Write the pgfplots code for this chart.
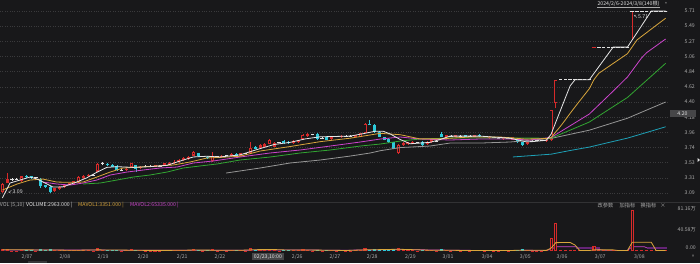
\documentclass[border=0pt]{standalone}
\usepackage{fontspec}
\setmainfont{Noto Sans CJK SC}
\newfontfamily\sym{DejaVu Sans}
\usepackage{pgfplots}
\pgfplotsset{compat=1.18}
\usepackage{pgfplotstable}
\definecolor{bgc}{RGB}{24,24,26}
\definecolor{gridc}{RGB}{58,58,60}
\definecolor{sepc}{RGB}{50,50,52}
\definecolor{cred}{RGB}{214,42,42}
\definecolor{ccyan}{RGB}{45,202,218}
\definecolor{dojic}{RGB}{225,225,225}
\definecolor{maA}{RGB}{230,230,230}
\definecolor{maB}{RGB}{217,166,60}
\definecolor{maC}{RGB}{204,68,204}
\definecolor{maD}{RGB}{50,165,50}
\definecolor{maE}{RGB}{150,150,150}
\definecolor{maF}{RGB}{30,160,182}
\definecolor{mvB}{RGB}{100,36,118}
\definecolor{tickc}{RGB}{170,170,170}
\definecolor{boxc}{RGB}{70,70,72}
\newcommand\lbl{\fontsize{5.2}{6}\selectfont}

\pgfplotsset{
 kbar/.style 2 args={draw=none, mark=none,
   /pgfplots/error bars/y dir=plus, /pgfplots/error bars/y explicit,
   /pgfplots/error bars/error mark=none,
   /pgfplots/error bars/error bar style={draw=#2, line width=#1}},
 kdash/.style={draw=none, mark=none,
   /pgfplots/error bars/x dir=both, /pgfplots/error bars/x fixed=0.37,
   /pgfplots/error bars/error mark=none,
   /pgfplots/error bars/error bar style={draw=#1, line width=0.9pt}},
}

% up candles: x, body bottom, body height, low, high-low, volume
\pgfplotstableread{
x lo h L r v
0 3.10 0.12 3.09 0.15 4
1 3.24 0.05 3.23 0.15 3
4 3.26 0.07 3.25 0.09 2
11 3.12 0.04 3.11 0.06 1.5
12 3.15 0.03 3.14 0.05 1.2
13 3.18 0.03 3.17 0.05 1.2
14 3.21 0.02 3.20 0.04 1.0
15 3.23 0.03 3.22 0.05 1.2
16 3.25 0.07 3.24 0.10 2.5
17 3.31 0.03 3.30 0.05 1.5
18 3.33 0.02 3.32 0.04 1.2
20 3.40 0.11 3.39 0.13 5
26 3.42 0.02 3.41 0.04 1.0
27 3.46 0.06 3.45 0.08 3
29 3.45 0.02 3.44 0.04 1.0
32 3.47 0.02 3.46 0.04 0.8
34 3.49 0.03 3.48 0.05 1.5
35 3.50 0.03 3.49 0.05 1.5
36 3.52 0.02 3.51 0.05 1.2
37 3.54 0.03 3.53 0.05 1.5
38 3.56 0.04 3.55 0.06 2
39 3.58 0.03 3.57 0.05 1.5
40 3.63 0.05 3.62 0.08 3
44 3.55 0.07 3.54 0.14 3
46 3.61 0.02 3.60 0.04 1.0
48 3.62 0.03 3.61 0.05 1.2
50 3.63 0.03 3.62 0.05 1.2
52 3.66 0.08 3.65 0.17 6
54 3.74 0.04 3.73 0.06 2
55 3.76 0.04 3.75 0.06 2
56 3.80 0.06 3.79 0.08 3
57 3.76 0.05 3.75 0.07 2
61 3.81 0.03 3.80 0.05 1.2
62 3.82 0.03 3.81 0.05 1.2
63 3.87 0.06 3.86 0.08 3
64 3.91 0.03 3.90 0.05 1.5
69 3.87 0.03 3.86 0.05 1.2
71 3.89 0.02 3.88 0.04 1.0
74 3.90 0.02 3.89 0.04 1.0
75 3.90 0.05 3.89 0.07 2
76 3.96 0.13 3.95 0.15 5
83 3.66 0.12 3.65 0.14 5
84 3.78 0.03 3.77 0.05 1.5
85 3.79 0.03 3.78 0.05 1.2
86 3.80 0.03 3.79 0.05 1.2
89 3.79 0.04 3.78 0.06 1.5
90 3.82 0.03 3.81 0.05 1.2
93 3.89 0.03 3.88 0.05 1.2
95 3.90 0.02 3.89 0.04 1.0
99 3.90 0.02 3.89 0.04 1.0
102 3.88 0.02 3.87 0.04 1.0
105 3.87 0.02 3.86 0.04 1.0
107 3.86 0.03 3.85 0.05 1.2
110 3.79 0.03 3.78 0.05 1.5
114 3.84 0.02 3.83 0.04 1.0
115 3.85 0.44 3.84 0.45 25
116 4.39 0.33 4.32 0.40 54
132 5.29 0 5.29 0.42 80
}\up

% down candles
\pgfplotstableread{
x lo h L r v
5 3.32 0.02 3.31 0.04 1.2
6 3.31 0.02 3.30 0.04 1.0
8 3.19 0.11 3.16 0.15 3
9 3.18 0.02 3.17 0.04 1.2
10 3.10 0.08 3.09 0.10 3
22 3.49 0.02 3.48 0.04 1.2
23 3.47 0.03 3.46 0.05 1.5
24 3.42 0.06 3.41 0.08 2.5
28 3.43 0.06 3.40 0.10 2.5
41 3.62 0.04 3.61 0.06 2
43 3.59 0.02 3.58 0.04 1.0
49 3.63 0.02 3.62 0.04 1.0
53 3.73 0.03 3.72 0.05 2
59 3.81 0.03 3.80 0.05 1.5
60 3.81 0.02 3.80 0.04 1.2
66 3.87 0.07 3.86 0.09 2.5
68 3.86 0.03 3.85 0.05 1.5
77 4.08 0.01 4.07 0.07 2.5
78 3.97 0.10 3.96 0.12 3.5
79 3.90 0.07 3.89 0.09 2.5
80 3.86 0.03 3.85 0.05 1.5
81 3.82 0.05 3.81 0.07 2
82 3.73 0.09 3.72 0.11 4
88 3.78 0.05 3.77 0.07 2
92 3.90 0.04 3.89 0.08 3
97 3.90 0.02 3.89 0.04 1.0
100 3.91 0.02 3.90 0.04 1.2
108 3.82 0.05 3.81 0.07 2.5
109 3.78 0.04 3.77 0.06 3
}\dn

% doji bars (open = close)
\pgfplotstableread{
x y L r v
2 3.29 3.27 0.04 0.8
3 3.29 3.28 0.03 0.8
7 3.31 3.30 0.02 0.6
19 3.35 3.34 0.03 0.8
21 3.51 3.49 0.05 1.5
25 3.42 3.41 0.02 0.6
30 3.48 3.47 0.02 0.6
31 3.48 3.47 0.02 0.6
33 3.48 3.47 0.02 0.6
42 3.62 3.61 0.02 0.6
45 3.62 3.61 0.02 0.6
47 3.63 3.62 0.02 0.6
51 3.66 3.65 0.02 0.6
58 3.82 3.81 0.02 0.8
65 3.93 3.92 0.02 0.8
67 3.88 3.87 0.02 0.8
70 3.90 3.89 0.02 0.6
72 3.91 3.90 0.02 0.6
73 3.91 3.90 0.02 0.6
87 3.82 3.81 0.02 0.8
91 3.84 3.83 0.02 0.6
94 3.91 3.90 0.02 0.6
96 3.91 3.90 0.02 0.6
98 3.91 3.90 0.02 0.6
101 3.90 3.89 0.02 0.6
103 3.89 3.88 0.02 0.6
104 3.88 3.87 0.02 0.6
106 3.88 3.87 0.02 0.6
111 3.84 3.83 0.02 0.6
112 3.85 3.84 0.02 0.6
113 3.85 3.84 0.02 0.6
117 4.72 4.72 0 1
118 4.72 4.72 0 1
119 4.72 4.72 0 1
120 4.72 4.72 0 1
121 4.72 4.72 0 1
122 4.72 4.72 0 1
123 4.72 4.72 0 1
125 5.19 5.19 0 1
126 5.19 5.19 0 1
127 5.19 5.19 0 1
128 5.19 5.19 0 1
129 5.19 5.19 0 1
130 5.19 5.19 0 1
131 5.19 5.19 0 1
132 5.71 5.71 0 0
133 5.71 5.71 0 1
134 5.71 5.71 0 1
135 5.71 5.71 0 1
136 5.71 5.71 0 1
137 5.71 5.71 0 1
138 5.71 5.71 0 1
139 5.71 5.71 0 1
}\dj

\pgfplotstableread{
x y L r v
124 5.19 5.19 0 10
}\rdj

% inside of hollow up bodies
\pgfplotstableread{
x a b
0 3.116 0.088
4 3.276 0.038
16 3.266 0.038
20 3.416 0.078
27 3.476 0.028
40 3.646 0.018
44 3.566 0.038
52 3.676 0.048
56 3.816 0.028
57 3.776 0.018
63 3.886 0.028
75 3.916 0.018
76 3.976 0.098
83 3.676 0.088
115 3.866 0.408
116 4.406 0.298
}\upin

% inside of hollow volume bars
\pgfplotstableread{
x a b
52 1.9 2.2
115 1.9 21.2
116 1.9 50.2
124 1.9 6.2
132 1.9 76.2
}\vin

\begin{document}
\begin{tikzpicture}
\fill[bgc] (0pt,0pt) rectangle (700pt,263pt);
\path[use as bounding box] (0pt,0pt) rectangle (700pt,263pt);

% ---------------- price panel ----------------
\begin{axis}[
  at={(0pt,61pt)}, anchor=south west,
  width=668pt, height=202pt, scale only axis,
  xmin=-0.5, xmax=139.5, ymin=2.962, ymax=5.868,
  axis line style={draw=none}, major tick length=0pt, tick style={draw=none},
  xtick=\empty,
  ytick={3.090,3.308,3.527,3.745,3.963,4.182,4.400,4.618,4.837,5.055,5.273,5.492,5.710},
  yticklabels={3.09,3.31,3.53,3.74,3.96,4.18,4.40,4.62,4.84,5.06,5.27,5.49,5.71},
  yticklabel pos=right,
  /pgf/number format/assume math mode=true,
  yticklabel style={anchor=east, xshift=27pt, inner sep=0pt, font=\lbl, text=tickc},
  ymajorgrids, grid style={draw=gridc, line width=0.6pt, dash pattern=on 0.8pt off 1.6pt},
]
% wicks
\addplot[kbar={0.8pt}{cred}] table[x=x,y=L,y error plus=r]{\up};
\addplot[kbar={0.8pt}{ccyan}] table[x=x,y=L,y error plus=r]{\dn};
\addplot[kbar={0.8pt}{dojic}] table[x=x,y=L,y error plus=r]{\dj};
% bodies
\addplot[kbar={3pt}{cred}] table[x=x,y=lo,y error plus=h]{\up};
\addplot[kbar={1.3pt}{bgc}] table[x=x,y=a,y error plus=b]{\upin};
\addplot[kbar={3pt}{ccyan}] table[x=x,y=lo,y error plus=h]{\dn};
\addplot[kdash=dojic] table[x=x,y=y]{\dj};
\addplot[kdash=cred] table[x=x,y=y]{\rdj};
% moving averages
\addplot[maF, line width=0.8pt] coordinates {(107,3.61) (111,3.63) (115,3.65) (119,3.703) (123,3.752) (127,3.817) (131,3.881) (135,3.962) (139,4.044)};
\addplot[maE, line width=0.8pt] coordinates {(46.9,3.379) (54.0,3.451) (60.3,3.523) (66.6,3.566) (72.9,3.623) (77.1,3.667) (79.2,3.70) (83.4,3.745) (89.6,3.767) (93.8,3.81) (100.1,3.81) (106.4,3.825) (115,3.877) (119,3.936) (123,3.995) (127,4.081) (131,4.167) (135,4.284) (139,4.40)};
\addplot[maD, line width=0.8pt] coordinates {(16.9,3.221) (20.5,3.235) (24.0,3.278) (27.4,3.321) (30.9,3.35) (34.5,3.393) (37.9,3.451) (41.4,3.48) (45.0,3.509) (49.8,3.566) (56.1,3.609) (62.4,3.667) (68.7,3.71) (75.0,3.767) (79.2,3.796) (83.4,3.839) (87.5,3.868) (93.8,3.882) (100.1,3.882) (106.4,3.882) (115,3.88) (116,3.909) (119,3.996) (123,4.112) (124,4.156) (127,4.289) (131,4.466) (132,4.527) (135,4.711) (139,4.957)};
\addplot[maC, line width=0.8pt] coordinates {(8.5,3.249) (11.4,3.221) (14.2,3.206) (16.9,3.235) (19.8,3.278) (22.6,3.35) (26.1,3.393) (29.5,3.422) (33.0,3.451) (36.6,3.465) (40.0,3.523) (44.2,3.552) (49.8,3.609) (56.1,3.667) (62.4,3.71) (68.7,3.767) (75.0,3.825) (79.2,3.868) (83.4,3.897) (87.5,3.868) (93.8,3.854) (100.1,3.868) (106.4,3.868) (110.6,3.854) (115,3.891) (116,3.933) (117,3.975) (118,4.017) (119,4.059) (120,4.101) (121,4.143) (122,4.185) (123,4.227) (124,4.293) (125,4.359) (126,4.425) (127,4.491) (128,4.557) (129,4.625) (130,4.693) (131,4.76) (132,4.853) (133,4.946) (134,5.038) (135,5.109) (136,5.159) (137,5.208) (138,5.258) (139,5.307)};
\addplot[maB, line width=0.8pt] coordinates {(0,3.134) (3.1,3.221) (5.8,3.278) (8.5,3.292) (11.4,3.249) (14.2,3.245) (16.9,3.249) (19.8,3.321) (22.6,3.393) (25.3,3.451) (28.8,3.465) (32.4,3.48) (35.8,3.494) (39.3,3.537) (42.9,3.595) (47.1,3.609) (49.8,3.62) (54.0,3.695) (60.3,3.76) (66.6,3.83) (72.9,3.88) (79.2,3.95) (83.4,3.93) (87.5,3.87) (91.7,3.87) (98.0,3.897) (104.3,3.897) (109.6,3.868) (114,3.875) (115,3.888) (116,3.972) (117,4.055) (118,4.145) (119,4.239) (120,4.329) (121,4.417) (122,4.504) (123,4.591) (124,4.724) (125,4.814) (126,4.861) (127,4.908) (128,4.955) (129,5.002) (130,5.049) (131,5.096) (132,5.195) (133,5.294) (134,5.346) (135,5.398) (136,5.45) (137,5.502) (138,5.554) (139,5.606)};
\addplot[maA, line width=0.8pt] coordinates {(0,3.02) (1.6,3.235) (3.7,3.278) (5.8,3.321) (7.3,3.292) (8.5,3.25) (10.6,3.177) (12.7,3.18) (15.6,3.25) (17.7,3.31) (19.8,3.39) (21.9,3.46) (24.0,3.47) (27.4,3.46) (30.9,3.47) (34.5,3.49) (37.2,3.55) (40.0,3.61) (42.9,3.62) (45.6,3.61) (49.8,3.64) (54.0,3.73) (57,3.79) (60.3,3.82) (63.5,3.87) (66.6,3.90) (72.9,3.91) (76.0,3.95) (78.1,3.98) (79.8,3.98) (81.3,3.94) (83.4,3.86) (85.5,3.80) (87.5,3.81) (89.6,3.82) (91.7,3.86) (93.8,3.91) (100.1,3.91) (106.4,3.88) (109.6,3.83) (111,3.83) (114,3.85) (115,3.938) (116,4.114) (117,4.288) (118,4.462) (119,4.634) (120,4.72) (123,4.72) (124,4.814) (125,4.908) (126,5.002) (127,5.096) (128,5.19) (131,5.19) (132,5.294) (133,5.398) (134,5.502) (135,5.606) (136,5.71) (139,5.71)};
\end{axis}

% ---------------- volume panel ----------------
\begin{axis}[
  at={(0pt,11pt)}, anchor=south west,
  width=668pt, height=50pt, scale only axis,
  xmin=-0.5, xmax=139.5, ymin=-1.93, ymax=94.7,
  axis line style={draw=none}, major tick length=0pt, tick style={draw=none},
  xtick={5.16,13.1,21.1,29.5,37.7,45.6,61.8,69.7,77.5,85.5,93.4,101.6,109.6,117.3,125.3,133.5},
  xticklabels={2/07,2/08,2/19,2/20,2/21,2/22,2/26,2/27,2/28,2/29,3/01,3/04,3/05,3/06,3/07,3/08},
  xticklabel style={font=\lbl, text=tickc, inner sep=0pt, anchor=center, yshift=-4.5pt},
  ytick={5.8,40.58,81.16}, yticklabels={0.00,40.58万,81.16万},
  yticklabel pos=right,
  /pgf/number format/assume math mode=true,
  yticklabel style={anchor=east, xshift=28pt, inner sep=0pt, font=\lbl, text=tickc},
]
\addplot[maC, line width=0.7pt] coordinates {(0,2.0) (10,2.1) (20,1.8) (30,1.5) (40,1.4) (50,1.4) (55,2.0) (60,2.2) (70,1.5) (80,2.2) (85,2.8) (90,2.0) (100,1.1) (110,1.3) (114,1.2) (115,3.2) (116,8.3) (120,8.3) (121,6.4) (123.5,6.4) (124.5,4.0) (125.5,2.0) (126.5,1.2) (131,1.2) (132,8.3) (134.5,8.3) (135,6.4) (139,6.4)};
\addplot[mvB, line width=2pt] coordinates {(120.3,6.4) (125.3,6.4)};
\addplot[mvB, line width=2pt] coordinates {(135,6.4) (139.3,6.4)};
\addplot[kbar={3.2pt}{cred}] table[x=x,y expr=0,y error plus=v]{\up};
\addplot[kbar={3pt}{ccyan}] table[x=x,y expr=0,y error plus=v]{\dn};
\addplot[kbar={3pt}{cred}] table[x=x,y expr=0,y error plus=v]{\dj};
\addplot[kbar={3.2pt}{cred}] table[x=x,y expr=0,y error plus=v]{\rdj};
\addplot[kbar={1.0pt}{bgc}] table[x=x,y=a,y error plus=b]{\vin};
\addplot[maB, line width=0.8pt] coordinates {(0,2.5) (5,2.2) (10,2.0) (15,1.4) (20,2.2) (25,1.8) (30,1.2) (35,1.2) (40,1.8) (45,1.6) (50,1.4) (53,2.6) (57,2.8) (60,1.8) (64,1.8) (68,1.6) (72,1.0) (76,2.2) (80,2.8) (83,3.4) (86,2.6) (90,1.4) (94,1.4) (98,0.9) (102,0.9) (106,0.9) (109,1.6) (112,1.4) (114,1.2) (115,5.6) (116,16.2) (119,16.4) (120,11.6) (121,1.0) (123,1.0) (124,2.2) (128,2.2) (129,1.0) (131,1.0) (132,16.8) (136,16.8) (137,1.0) (139,1.0)};
\end{axis}

\begin{scope}[x=1pt,y=1pt]
% separators and decorations
\draw[sepc, line width=0.8pt] (0,61) -- (700,61);
\fill[boxc!80!black] (28,0) rectangle (47,2);

% texts
\node[anchor=east, inner sep=0pt, font=\lbl, text=tickc] at (24.5,58) {VOL (5,10)};
\node[anchor=west, inner sep=0pt, font=\lbl, text=maA] at (26,58) {VOLUME:2963.000 |};
\node[anchor=west, inner sep=0pt, font=\lbl, text=maB] at (78,58) {MAVOL1:3351.000 |};
\node[anchor=west, inner sep=0pt, font=\lbl, text=maC] at (130,58) {MAVOL2:65335.000 |};
\node[inner sep=0pt, font=\lbl, text=tickc] at (605.5,57.5) {改参数};
\node[inner sep=0pt, font=\lbl, text=tickc] at (627.5,57.5) {加指标};
\node[inner sep=0pt, font=\lbl, text=tickc] at (648.5,57.5) {换指标};
\node[inner sep=0pt, font=\lbl, text=tickc] at (663,57.5) {×};

\node[inner sep=0pt, font=\lbl, text=dojic] (rng) at (628.5,259) {2024/2/6-2024/3/8(140根)};
\draw[tickc, line width=0.4pt] ([yshift=-0.6pt]rng.south west) -- ([yshift=-0.6pt]rng.south east);
\node[inner sep=0pt, font=\lbl, text=tickc] at (666,259) {*};

\node[fill=boxc, text=dojic, inner sep=0pt, minimum width=26pt, minimum height=7pt, font=\lbl] at (682.5,149.3) {4.20};
\fill[dojic] (697.5,101) -- (700,103) -- (697.5,105) -- cycle;

\node[anchor=west, inner sep=0pt, font=\lbl, text=dojic] at (8,71) {{\sym ↙}3.09};
\node[anchor=west, inner sep=0pt, font=\lbl, text=dojic] at (633.5,246.5) {{\sym ↖}5.71};

\node[fill=boxc, text=dojic, inner xsep=1.5pt, inner ysep=0.8pt, font=\lbl] at (268,6.5) {02/23,10:00};
\node[inner sep=0pt, font=\lbl, text=tickc] at (693,6.5) {»};
\end{scope}
\end{tikzpicture}
\end{document}
